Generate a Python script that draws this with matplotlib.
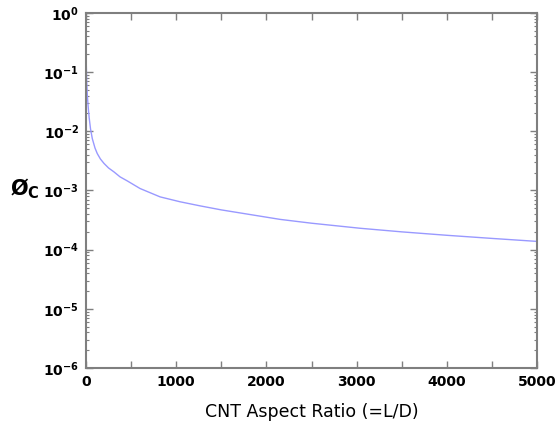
import matplotlib
matplotlib.use("Agg")
import matplotlib.pyplot as plt
from matplotlib.ticker import LogLocator, MultipleLocator, NullFormatter

# Data
aspect_ratio = [1, 8, 15, 25, 35, 50, 70, 100, 125, 160, 200, 250, 310, 377,
                458, 599, 821, 1042, 1264, 1500, 2151, 2500, 3039, 3500, 4000,
                4500, 5000]
phi_c = [0.18, 0.07, 0.04, 0.025, 0.017, 0.011, 0.0075, 0.0052, 0.0042,
         0.0034, 0.00286, 0.0024, 0.00206, 0.0017, 0.00145, 0.00108, 7.8e-4,
         6.45e-4, 5.5e-4, 4.7e-4, 3.25e-4, 2.8e-4, 2.3e-4, 2.0e-4, 1.75e-4,
         1.55e-4, 1.38e-4]
x_ticks = [0, 1000, 2000, 3000, 4000, 5000]

fig = plt.figure(figsize=(5.57, 4.30), dpi=100)
ax = fig.add_axes([0.1544, 0.144, 0.81, 0.826])

ax.plot(aspect_ratio, phi_c, color="#9999ff", lw=1.0)
ax.set_yscale("log")
ax.set_xlim(0, 5000)
ax.set_ylim(1e-6, 1)

ax.set_xticks(x_ticks)
ax.xaxis.set_minor_locator(MultipleLocator(500))
ax.yaxis.set_major_locator(LogLocator(base=10, numticks=10))
ax.yaxis.set_minor_locator(LogLocator(base=10, subs=range(2, 10), numticks=20))
ax.yaxis.set_minor_formatter(NullFormatter())

for s in ax.spines.values():
    s.set_color("#7f7f7f")
    s.set_linewidth(1.5)

ax.tick_params(which="both", direction="in", top=True, right=True,
               color="#7f7f7f")
ax.tick_params(axis="x", which="major", length=5, width=1)
ax.tick_params(axis="x", which="minor", length=5, width=1)
ax.tick_params(axis="y", which="major", length=5, width=1)
ax.tick_params(axis="y", which="minor", length=2.5, width=0.8)
ax.tick_params(axis="both", which="major", labelsize=10, pad=5)
for lab in ax.get_xticklabels() + ax.get_yticklabels():
    lab.set_fontweight("bold")

ax.set_xlabel("CNT Aspect Ratio (=L/D)", fontsize=12.5, labelpad=10)
fig.text(0.018, 0.56, r"Ø$_\mathregular{C}$", fontsize=15, fontweight="bold",
         va="center", ha="left")

fig.savefig("out.png", dpi=100)
